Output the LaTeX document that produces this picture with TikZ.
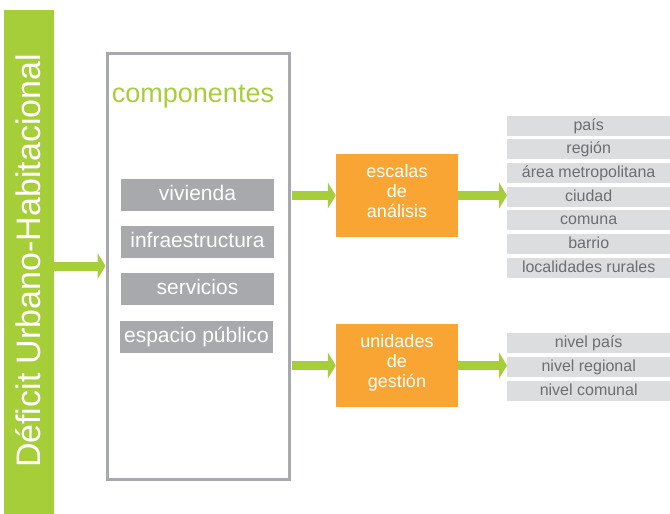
\documentclass[tikz,border=0pt]{standalone}
\usepackage{fontspec}
\setmainfont{Liberation Sans}
\usetikzlibrary{arrows.meta}
\definecolor{dgreen}{HTML}{A6CE39}
\definecolor{dorange}{HTML}{F8A533}
\definecolor{dgray}{HTML}{A7A9AC}
\definecolor{lgray}{HTML}{DCDDDE}
\definecolor{tgray}{HTML}{6D6E71}
\begin{document}
\begin{tikzpicture}[x=1pt,y=-1pt,
  compbox/.style={fill=dgray,text=white,minimum width=153pt,minimum height=32pt,inner sep=0pt,font=\fontsize{21}{24}\selectfont,text height=15.3pt,text depth=4.4pt},
  orbox/.style={fill=dorange,minimum width=122pt,minimum height=83pt,inner sep=0pt},
  ortext/.style={text=white,inner sep=0pt,align=center,font=\fontsize{18}{20}\selectfont},
  itembox/.style={fill=lgray,text=tgray,minimum width=163pt,minimum height=20pt,inner sep=0pt,anchor=west,font=\fontsize{16}{18}\selectfont,text height=11.5pt,text depth=3.4pt},
  conn/.style={draw=dgreen,line width=9pt,-{Triangle[length=8pt,width=26pt]}}
]
\useasboundingbox (0,0) rectangle (670,514);
% left bar
\node[fill=dgreen,minimum width=50pt,minimum height=504pt,inner sep=0pt,anchor=north west] (bar) at (4,10) {};
\node[rotate=90,anchor=base,text=white,inner sep=0pt,font=\fontsize{34}{40}\selectfont] (title) at (41,261) {Déficit Urbano-Habitacional};
% components frame
\node[draw=dgray,line width=3pt,minimum width=182pt,minimum height=426pt,inner sep=0pt,anchor=north west] (comp) at (105.5,51.5) {};
\node[anchor=base,text=dgreen,inner sep=0pt,font=\fontsize{27}{30}\selectfont] (ctitle) at (193,102) {componentes};
\node[compbox] (viv) at (197.5,195) {vivienda};
\node[compbox] (inf) at (197.5,242) {infraestructura};
\node[compbox] (ser) at (197.5,289) {servicios};
\node[compbox] (esp) at (196.5,337) {espacio público};
% orange boxes
\node[orbox] (esc) at (397,195.5) {};
\node[ortext] (esct) at ([yshift=4pt]esc.center) {escalas\\de\\análisis};
\node[orbox] (uni) at (397,365.5) {};
\node[ortext] (unit) at ([yshift=3pt]uni.center) {unidades\\de\\gestión};
% lists
\node[itembox] (pais) at (507,126) {país};
\node[itembox] (reg) at (507,149) {región};
\node[itembox] (amet) at (507,173) {área metropolitana};
\node[itembox] (ciu) at (507,197) {ciudad};
\node[itembox] (com) at (507,220) {comuna};
\node[itembox] (bar2) at (507,244) {barrio};
\node[itembox] (loc) at (507,268) {localidades rurales};
\node[itembox] (npais) at (507,343) {nivel país};
\node[itembox] (nreg) at (507,367) {nivel regional};
\node[itembox] (ncom) at (507,391) {nivel comunal};
% connectors
\draw[conn] (bar.east |- comp.west) -- (comp.west);
\draw[conn,shorten <=1.5pt] (comp.east |- esc.west) -- (esc.west);
\draw[conn] (esc.east) -- (esc.east -| ciu.west);
\draw[conn,shorten <=1.5pt] (comp.east |- uni.west) -- (uni.west);
\draw[conn] (uni.east) -- (uni.east -| nreg.west);
\end{tikzpicture}
\end{document}
